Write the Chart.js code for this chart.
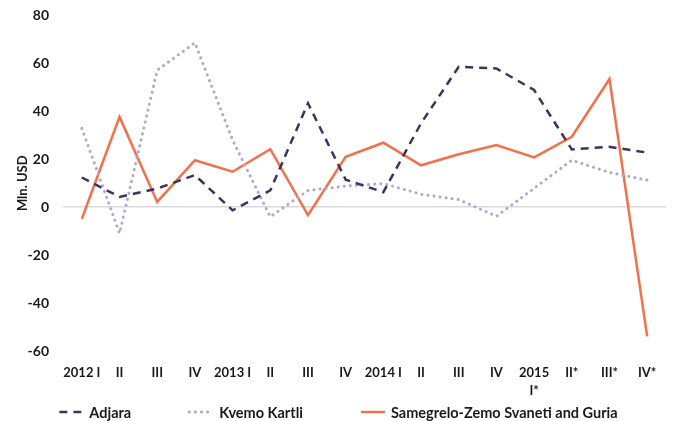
<!DOCTYPE html>
<html>
<head>
<meta charset="utf-8">
<script src="https://cdn.jsdelivr.net/npm/chart.js@4/dist/chart.umd.min.js"></script>
<style>
    html, body { margin: 0; padding: 0; background: #fff; }
    #wrap { width: 673px; height: 421px; position: relative; }
</style>
</head>
<body>
<div id="wrap"><canvas id="quarterChart"></canvas></div>
<script>
// Quarterly values, Mln. USD
const quarters = ['2012 I', 'II', 'III', 'IV', '2013 I', 'II', 'III', 'IV',
    '2014 I', 'II', 'III', 'IV', ['2015', 'I*'], 'II*', 'III*', 'IV*'];
const adjara = [12.4, 4.3, 7.8, 13.4, -1.3, 7, 43.4, 11.5, 6.3, 35, 58.6, 57.9, 48.9, 24.1, 25.2, 22.8];
const kvemoKartli = [32.9, -10.9, 57.2, 68.6, 28, -4, 7, 8.8, 9.9, 5.4, 3.2, -3.8, 7.9, 19.6, 14.5, 11.3];
const samegrelo = [-4.8, 37.7, 2.2, 19.6, 14.8, 24.2, -3.3, 21, 26.9, 17.5, 22.1, 25.9, 20.8, 29.4, 53.5, -53.9];
const yTicks = [80, 60, 40, 20, 0, -20, -40, -60];

const fontFamily = 'Lato, "Open Sans", sans-serif';
const textColor = '#1a1a1a';

// Legend drawn by hand so the items can sit far apart like the original
const bottomLegend = {
    id: 'bottomLegend',
    afterDraw(chart) {
        const c = chart.ctx;
        const y = 412;
        const symbolW = 24, gap = 6, spacing = 58;
        c.save();
        c.font = 'bold 14.5px ' + fontFamily;
        c.textBaseline = 'middle';
        const items = chart.data.datasets.map(ds => ({ ds, w: symbolW + gap + c.measureText(ds.label).width }));
        const total = items.reduce((s, it) => s + it.w, 0) + spacing * (items.length - 1);
        let x = (chart.width - total) / 2 + 2;
        items.forEach(it => {
            const ds = it.ds;
            c.beginPath();
            c.setLineDash(ds.borderDash || []);
            c.lineCap = ds.borderCapStyle || 'butt';
            c.lineWidth = ds.borderWidth;
            c.strokeStyle = ds.borderColor;
            c.moveTo(x, y);
            c.lineTo(x + symbolW, y);
            c.stroke();
            c.setLineDash([]);
            c.fillStyle = textColor;
            c.fillText(ds.label, x + symbolW + gap, y + 1);
            x += it.w + spacing;
        });
        c.restore();
    }
};

const ctx = document.getElementById('quarterChart').getContext('2d');
const chart = new Chart(ctx, {
    type: 'line',
    data: {
        labels: quarters,
        datasets: [
            {
                label: 'Adjara',
                data: adjara,
                borderColor: '#3f3160',
                borderWidth: 2.5,
                borderDash: [8, 6],
                pointRadius: 0,
                tension: 0
            },
            {
                label: 'Kvemo Kartli',
                data: kvemoKartli,
                borderColor: '#b3a4d3',
                borderWidth: 3,
                borderDash: [0.1, 6],
                borderCapStyle: 'round',
                pointRadius: 0,
                tension: 0
            },
            {
                label: 'Samegrelo-Zemo Svaneti and Guria',
                data: samegrelo,
                borderColor: '#f4704a',
                borderWidth: 2.5,
                pointRadius: 0,
                tension: 0
            }
        ]
    },
    plugins: [bottomLegend],
    options: {
        responsive: true,
        maintainAspectRatio: false,
        animation: false,
        layout: {
            padding: { top: 0, right: 7, left: 0, bottom: 0 }
        },
        plugins: {
            tooltip: { enabled: false },
            legend: { display: false }
        },
        scales: {
            x: {
                offset: true,
                grid: { display: false },
                border: { display: false },
                afterFit: scale => { scale.height = 70; },
                ticks: {
                    autoSkip: false,
                    maxRotation: 0,
                    padding: 4,
                    color: textColor,
                    font: { family: fontFamily, size: 13, weight: 'bold', lineHeight: 1.45 }
                }
            },
            y: {
                min: -60,
                max: 80,
                afterBuildTicks: function (axis) {
                    axis.ticks = yTicks.map(v => ({ value: v }));
                },
                afterFit: scale => {
                    scale.width = 63;
                    scale.paddingTop = 15.5;
                },
                grid: {
                    drawTicks: false,
                    color: c => (c.tick && c.tick.value === 0) ? '#d9d9d9' : 'rgba(0,0,0,0)',
                    lineWidth: 1.5
                },
                border: { display: false },
                title: {
                    display: true,
                    text: 'Mln. USD',
                    color: textColor,
                    padding: { top: 15, bottom: 0 },
                    font: { family: fontFamily, size: 13, weight: 'bold' }
                },
                ticks: {
                    padding: 14,
                    color: textColor,
                    font: { family: fontFamily, size: 14, weight: 'bold' }
                }
            }
        }
    }
});
</script>
</body>
</html>
